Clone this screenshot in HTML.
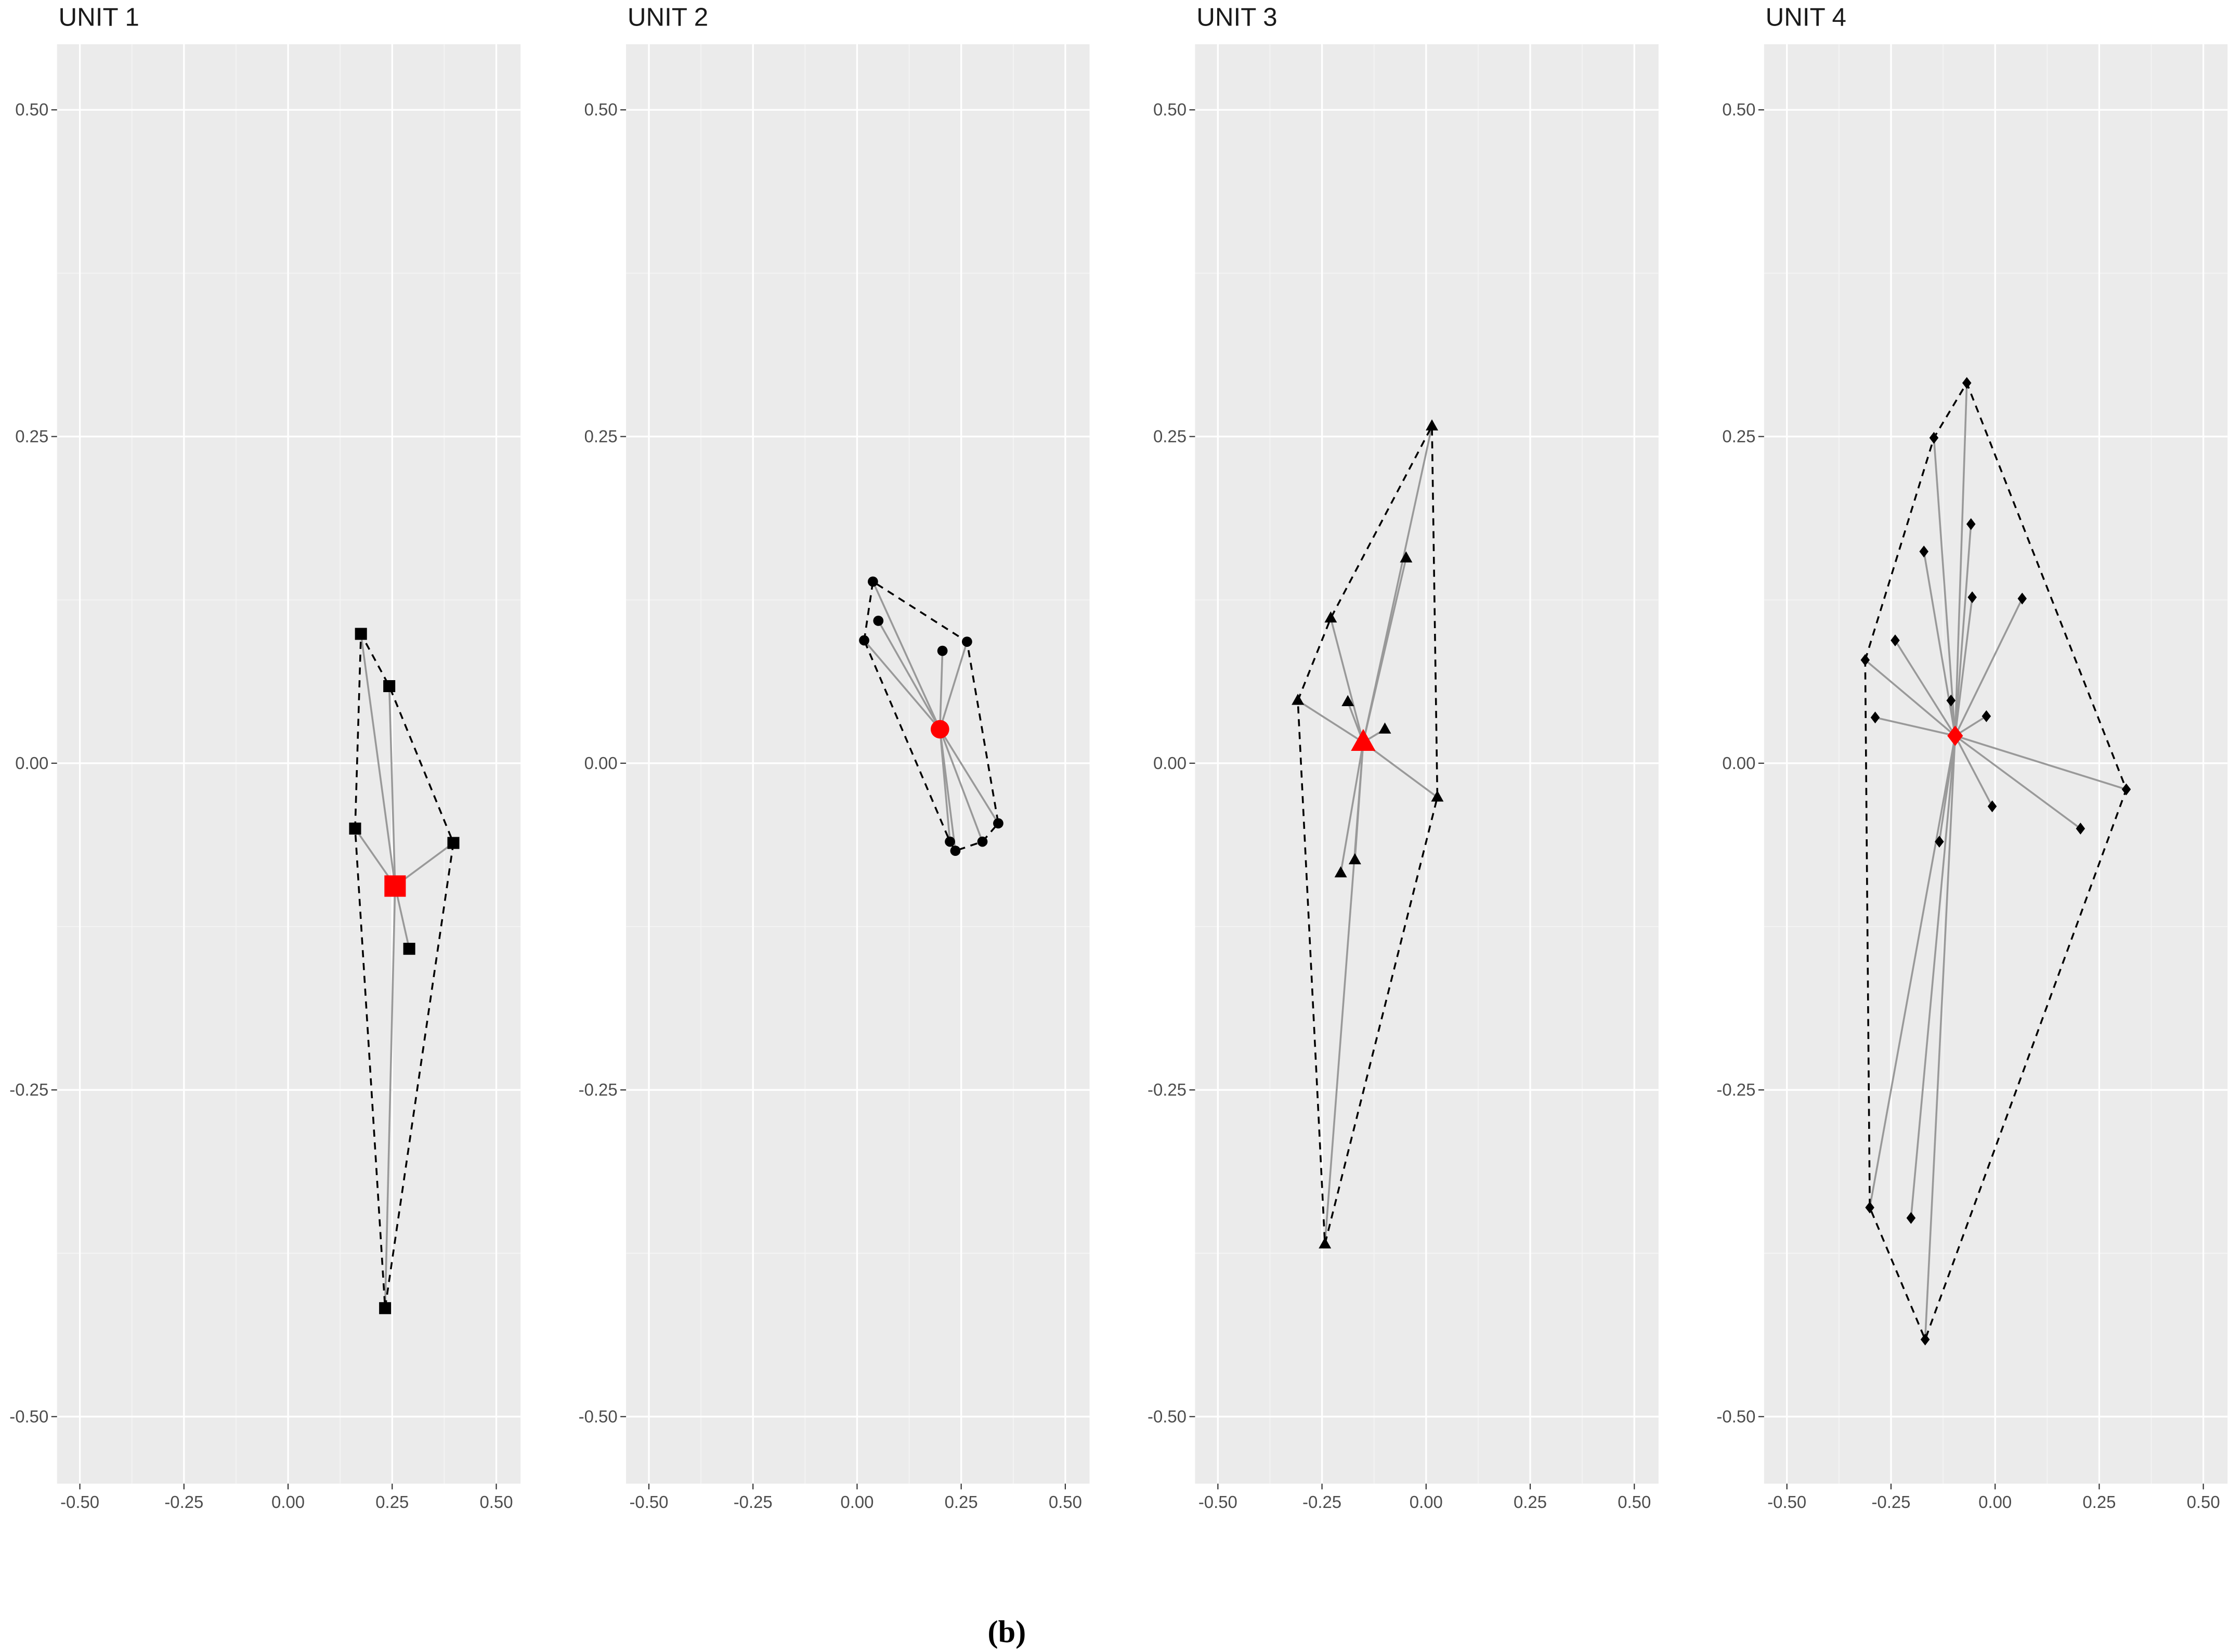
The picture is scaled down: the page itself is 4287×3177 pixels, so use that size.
<!DOCTYPE html>
<html><head><meta charset="utf-8"><style>
html,body{margin:0;padding:0;background:#fff}
svg{display:block}
text{font-family:"Liberation Sans",sans-serif}
</style></head><body>
<svg id="chart" width="4287" height="3177" viewBox="0 0 1563 1158" preserveAspectRatio="none" xmlns="http://www.w3.org/2000/svg">
<rect width="1563" height="1158" fill="#fff"/>
<g id="root"></g>
<text x="706" y="1151" text-anchor="middle" font-family="Liberation Serif" font-weight="bold" font-size="22" style="font-family:'Liberation Serif',serif">(b)</text>
</svg>
<script>
const unitTitles = ["UNIT 1","UNIT 2","UNIT 3","UNIT 4"];
const tickVals = [-0.5,-0.25,0,0.25,0.5];
const tickLabels = ["-0.50","-0.25","0.00","0.25","0.50"];
const unit1X = [0.175,0.243,0.161,0.397,0.291,0.233];
const unit1Y = [0.099,0.059,-0.050,-0.061,-0.142,-0.417];
const unit2X = [0.038,0.051,0.017,0.205,0.264,0.339,0.301,0.223,0.236];
const unit2Y = [0.139,0.109,0.094,0.086,0.093,-0.046,-0.060,-0.060,-0.067];
const unit3X = [0.014,-0.048,-0.229,-0.308,-0.188,-0.099,0.027,-0.171,-0.205,-0.243];
const unit3Y = [0.258,0.157,0.111,0.048,0.047,0.026,-0.026,-0.074,-0.084,-0.368];
const unit4X = [-0.068,-0.147,-0.058,-0.171,-0.055,0.065,-0.240,-0.312,-0.106,-0.288,-0.021,0.315,-0.007,0.205,-0.134,-0.301,-0.202,-0.168];
const unit4Y = [0.291,0.249,0.183,0.162,0.127,0.126,0.094,0.079,0.048,0.035,0.036,-0.020,-0.033,-0.050,-0.060,-0.340,-0.348,-0.441];
const centroidX = [0.257,0.199,-0.151,-0.096];
const centroidY = [-0.094,0.026,0.016,0.021];
const shapes = ["square","circle","triangle","diamond"];

const NS="http://www.w3.org/2000/svg";
const root=document.getElementById('root');
function mk(tag,attrs,parent){const e=document.createElementNS(NS,tag);for(const k in attrs)e.setAttribute(k,attrs[k]);(parent||root).appendChild(e);return e;}
const panelLeft=[40,439,838,1237], PW=325, TOP=31, BOT=1040;
const yS=v=>535-v*916;
function hull(pts){
  pts=pts.slice().sort((a,b)=>a[0]-b[0]||a[1]-b[1]);
  const cr=(o,a,b)=>(a[0]-o[0])*(b[1]-o[1])-(a[1]-o[1])*(b[0]-o[0]);
  const lo=[],up=[];
  for(const p of pts){while(lo.length>=2&&cr(lo[lo.length-2],lo[lo.length-1],p)<=0)lo.pop();lo.push(p);}
  for(let i=pts.length-1;i>=0;i--){const p=pts[i];while(up.length>=2&&cr(up[up.length-2],up[up.length-1],p)<=0)up.pop();up.push(p);}
  up.pop();lo.pop();return lo.concat(up);
}
function marker(g,shape,x,y,s,fill,name){
  let e;
  if(shape==="square") e=mk('rect',{x:x-s,y:y-s,width:2*s,height:2*s,fill:fill},g);
  else if(shape==="circle") e=mk('circle',{cx:x,cy:y,r:s,fill:fill},g);
  else if(shape==="triangle") e=mk('polygon',{points:`${x},${y-s*1.25} ${x-s*1.15},${y+s*0.8} ${x+s*1.15},${y+s*0.8}`,fill:fill},g);
  else e=mk('polygon',{points:`${x},${y-s*1.3} ${x+s},${y} ${x},${y+s*1.3} ${x-s},${y}`,fill:fill},g);
  
  
}
const allX=[unit1X,unit2X,unit3X,unit4X], allY=[unit1Y,unit2Y,unit3Y,unit4Y];
const sizes=[4.2,3.6,3.8,3.2], csizes=[7.5,6.5,7.5,5.5];
for(let p=0;p<4;p++){
  const L=panelLeft[p], x0=L+162;
  const xS=v=>x0+v*292;
  const g=mk('g',{});
  
  
  const t=mk('text',{x:L+1,y:18,'font-size':18,fill:'#1a1a1a'},g);t.textContent=unitTitles[p];
  
  
  const bg=mk('rect',{x:L,y:TOP,width:PW,height:BOT-TOP,fill:'#ebebeb'},g);
  
  
  for(let i=0;i<tickVals.length-1;i++){
    const m=(tickVals[i]+tickVals[i+1])/2;
    mk('line',{x1:xS(m),x2:xS(m),y1:TOP,y2:BOT,stroke:'#f5f5f5','stroke-width':0.6},g);
    mk('line',{x1:L,x2:L+PW,y1:yS(m),y2:yS(m),stroke:'#f5f5f5','stroke-width':0.6},g);
  }
  tickVals.forEach((v,i)=>{
    mk('line',{x1:xS(v),x2:xS(v),y1:TOP,y2:BOT,stroke:'#fff','stroke-width':1.2},g);
    mk('line',{x1:L,x2:L+PW,y1:yS(v),y2:yS(v),stroke:'#fff','stroke-width':1.2},g);
    mk('line',{x1:L-4,x2:L,y1:yS(v),y2:yS(v),stroke:'#333','stroke-width':0.8},g);
    mk('line',{x1:xS(v),x2:xS(v),y1:BOT,y2:BOT+4,stroke:'#333','stroke-width':0.8},g);
    const ty=mk('text',{x:L-6,y:yS(v)+4,'font-size':12,fill:'#4d4d4d','text-anchor':'end'},g);ty.textContent=tickLabels[i];
    
    
    const tx=mk('text',{x:xS(v),y:BOT+17,'font-size':12,fill:'#4d4d4d','text-anchor':'middle'},g);tx.textContent=tickLabels[i];
    
    
  });
  const pts=allX[p].map((x,i)=>[xS(x),yS(allY[p][i])]);
  const cx=xS(centroidX[p]), cy=yS(centroidY[p]);
  pts.forEach(q=>{
    const s=mk('line',{x1:cx,y1:cy,x2:q[0],y2:q[1],stroke:'#999','stroke-width':1.3},g);
    
    
  });
  const h=hull(pts);
  const hp=mk('polygon',{points:h.map(q=>q.join(',')).join(' '),fill:'none',stroke:'#000','stroke-width':1.3,'stroke-dasharray':'5,4'},g);
  
  
  pts.forEach(q=>marker(g,shapes[p],q[0],q[1],sizes[p],'#000','data-point'));
  marker(g,shapes[p],cx,cy,csizes[p],'#ff0000','centroid-marker');
}
</script>
</body></html>
